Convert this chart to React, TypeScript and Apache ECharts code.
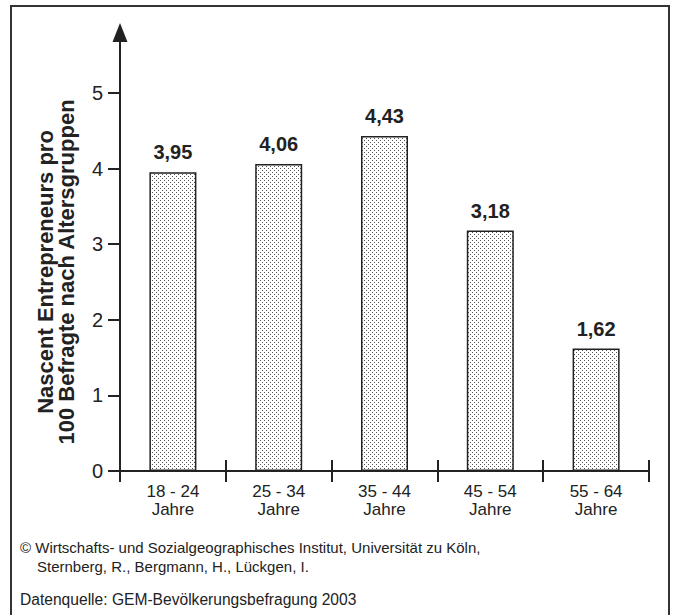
import React, { useEffect, useRef } from "react";
import * as echarts from "echarts";

const ageGroups = ["18 - 24", "25 - 34", "35 - 44", "45 - 54", "55 - 64"];
const ageUnit = "Jahre";
const values = [3.95, 4.06, 4.43, 3.18, 1.62];
const yTicks = [0, 1, 2, 3, 4, 5];
const yAxisTitle = ["Nascent Entrepreneurs pro", "100 Befragte nach Altersgruppen"];
const creditLines = [
  "© Wirtschafts- und Sozialgeographisches Institut, Universität zu Köln,",
  "Sternberg, R., Bergmann, H., Lückgen, I.",
];
const sourceLine = "Datenquelle: GEM-Bevölkerungsbefragung 2003";

const FONT = "'Liberation Sans', Arial, Helvetica, sans-serif";
const INK = "#222";

function makeDots(): HTMLCanvasElement {
  const c = document.createElement("canvas");
  c.width = 4;
  c.height = 4;
  const ctx = c.getContext("2d")!;
  ctx.fillStyle = "#ffffff";
  ctx.fillRect(0, 0, 4, 4);
  ctx.fillStyle = "#555555";
  ctx.fillRect(0, 0, 1, 1);
  ctx.fillRect(2, 2, 1, 1);
  return c;
}

export default function App() {
  const ref = useRef<HTMLDivElement>(null);
  useEffect(() => {
    if (!ref.current) return;
    const chart = echarts.init(ref.current, null, { renderer: "svg" });
    const dots = makeDots();
    const pattern: any = { image: dots, repeat: "repeat", imageWidth: 4, imageHeight: 4 };
    chart.setOption({
      animation: false,
      backgroundColor: "#ffffff",
      textStyle: { fontFamily: FONT },
      grid: { left: 120, width: 529, top: 32.5, height: 438.5 },
      xAxis: [
        {
          type: "category",
          position: "bottom",
          data: ageGroups,
          axisLine: { show: true, lineStyle: { color: INK, width: 2 } },
          axisTick: { show: true, inside: false, length: 11, lineStyle: { color: INK, width: 2 } },
          axisLabel: {
            show: true,
            margin: 11,
            fontSize: 17,
            lineHeight: 18,
            color: INK,
            fontFamily: FONT,
            formatter: (v: string) => v + "\n" + ageUnit,
          },
          splitLine: { show: false },
        },
        {
          type: "category",
          position: "bottom",
          data: ageGroups,
          axisLine: { show: false },
          axisTick: { show: true, inside: true, length: 11, lineStyle: { color: INK, width: 2 } },
          axisLabel: { show: false },
          splitLine: { show: false },
        },
      ],
      yAxis: {
        type: "value",
        min: 0,
        max: 5.8,
        axisLine: {
          show: true,
          symbol: ["none", "triangle"],
          symbolSize: [15, 19],
          lineStyle: { color: INK, width: 2 },
        },
        axisTick: {
          show: true,
          length: 12,
          customValues: yTicks,
          lineStyle: { color: INK, width: 2 },
        },
        axisLabel: {
          show: true,
          customValues: yTicks,
          margin: 17,
          fontSize: 20,
          color: INK,
          fontFamily: FONT,
        },
        splitLine: { show: false },
      },
      series: [
        {
          type: "bar",
          xAxisIndex: 0,
          data: values,
          barWidth: 47,
          itemStyle: { color: pattern, borderColor: INK, borderWidth: 1.5 },
          label: {
            show: true,
            position: "top",
            distance: 10,
            fontSize: 20,
            fontWeight: "bold",
            color: INK,
            fontFamily: FONT,
            formatter: (p: any) => String(p.value.toFixed(2)).replace(".", ","),
          },
        },
      ],
      graphic: [
        {
          type: "rect",
          shape: { x: 11, y: 6, width: 658, height: 640 },
          style: { fill: "none", stroke: "#333", lineWidth: 2 },
          silent: true,
        },
        {
          type: "text",
          x: 56,
          y: 272,
          rotation: Math.PI / 2,
          style: {
            text: yAxisTitle.join("\n"),
            font: `bold 22px ${FONT}`,
            fill: INK,
            align: "center",
            verticalAlign: "middle",
            lineHeight: 21,
          },
        },
        {
          type: "text",
          x: 20,
          y: 547,
          style: {
            text: creditLines[0],
            font: `15px ${FONT}`,
            fill: INK,
            align: "left",
            verticalAlign: "middle",
          },
        },
        {
          type: "text",
          x: 37,
          y: 566,
          style: {
            text: creditLines[1],
            font: `15px ${FONT}`,
            fill: INK,
            align: "left",
            verticalAlign: "middle",
          },
        },
        {
          type: "text",
          x: 20,
          y: 599,
          style: {
            text: sourceLine,
            font: `15.6px ${FONT}`,
            fill: INK,
            align: "left",
            verticalAlign: "middle",
          },
        },
      ],
    });
    return () => chart.dispose();
  }, []);
  return (
    <div
      ref={ref}
      style={{ position: "absolute", left: 0, top: 0, width: 674, height: 615, background: "#fff" }}
    />
  );
}
